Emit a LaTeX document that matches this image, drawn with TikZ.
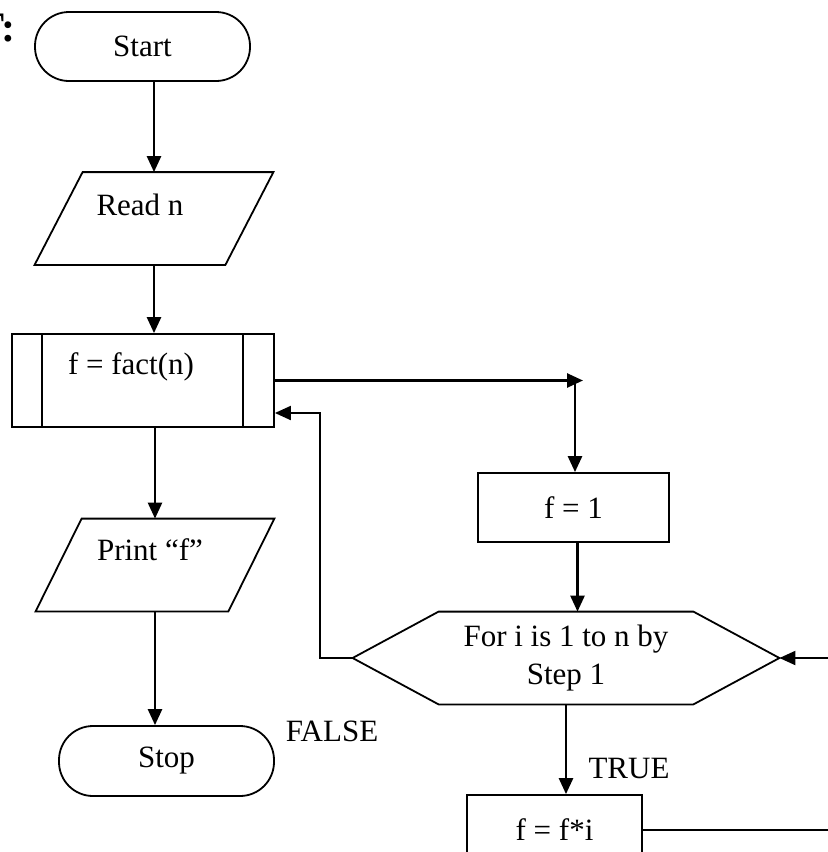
\documentclass[tikz,border=0pt]{standalone}
\usepackage{fontspec}
\setmainfont{Liberation Serif}
\usetikzlibrary{arrows.meta}

\begin{document}
\begin{tikzpicture}[
	x=0.5pt, y=-0.5pt,
	every node/.style={font=\fontsize{15.5}{19}\selectfont},
	term/.style={draw, rectangle, rounded corners=17pt, minimum width=107.5pt, minimum height=34.5pt, inner sep=0pt, line width=0.9pt},
	io/.style={rectangle, minimum width=119pt, minimum height=46pt, inner sep=0pt},
	proc/.style={draw, rectangle, minimum height=34.5pt, inner sep=0pt, line width=0.9pt},
	outline/.style={line width=0.9pt, line join=miter},
	>={Triangle[length=8pt,width=7pt]}
	]
	\useasboundingbox (0,0) rectangle (827,852);
	
	%-----------------------
	% Heading (cut at the left edge)
	%-----------------------
	\node[anchor=east, inner sep=0pt, font=\fontsize{21}{24}\selectfont\bfseries] (hd) at (16,28) {T:};
	
	%-----------------------
	% Main column
	%-----------------------
	\node[term] (st) at (142.5,46.5) {Start};
	
	\node[io, label={[xshift=-7pt,yshift=6.75pt]center:Read n}] (rd) at (154,218.5) {};
	\draw[outline] (rd.south west) -- ([xshift=24pt]rd.north west) -- (rd.north east)
		-- ([xshift=-24pt]rd.south east) -- cycle;
	
	\node[proc, minimum width=131pt, minimum height=46.5pt, label={[xshift=-6pt,yshift=6.75pt]center:f = fact(n)}] (fc) at (143,380.5) {};
	\draw[outline] ([xshift=15.5pt]fc.north west) -- ([xshift=15.5pt]fc.south west)
		([xshift=-16pt]fc.north east) -- ([xshift=-16pt]fc.south east);
	
	\node[io, label={[xshift=-2.5pt,yshift=7.5pt]center:Print “f”}] (pr) at (155,565) {};
	\draw[outline] (pr.south west) -- ([xshift=23pt]pr.north west) -- (pr.north east)
		-- ([xshift=-23pt]pr.south east) -- cycle;
	
	\node[term, minimum height=35pt] (sp) at (166.5,761) {Stop};
	
	%-----------------------
	% Function body
	%-----------------------
	\node[proc, minimum width=95.5pt] (f1) at (573.5,507.5) {f = 1};
	
	\node[rectangle, minimum width=213pt, minimum height=46pt, inner sep=0pt, align=center] (hx) at (566,658) {For i is 1 to n by\\Step 1};
	\draw[outline] (hx.west) -- ([xshift=43pt]hx.north west) -- ([xshift=-43pt]hx.north east)
		-- (hx.east) -- ([xshift=-43pt]hx.south east) -- ([xshift=43pt]hx.south west) -- cycle;
	
	\node[proc, minimum width=87.5pt] (fi) at (554.5,829.5) {f = f*i};
	
	\node (fl) at (332,731) {FALSE};
	\node (tr) at (629,768) {TRUE};
	
	\coordinate (j) at (575,380.5);
	\coordinate (back) at (320,413);
	\coordinate (loop) at (880,658);
	
	%-----------------------
	% Connections
	%-----------------------
	\tikzset{link/.style={->, line width=1.3pt}}
	
	\draw[link] (st.south -| rd.north) -- (rd.north);
	\draw[link] (rd.south) -- (rd.south |- fc.north);
	\draw[link] (fc.south -| pr.north) -- (pr.north);
	\draw[link] (pr.south) -- (pr.south |- sp.north);
	
	% call -> function
	\draw[link] (fc.east) -- ([xshift=4pt]j);
	\draw[link] (j) -- (j |- f1.north);
	\draw[link] ([xshift=2pt]f1.south) -- ([xshift=2pt]f1.south |- hx.north);
	\draw[link] (hx.south) -- (hx.south |- fi.north);
	
	% FALSE: back to the call
	\draw[link, line width=1pt] (hx.west) -| (back) -- (back -| fc.east);
	
	% loop back
	\draw[link, line width=1pt] (fi.east) -| (loop) -- (hx.east);
	
\end{tikzpicture}
\end{document}
